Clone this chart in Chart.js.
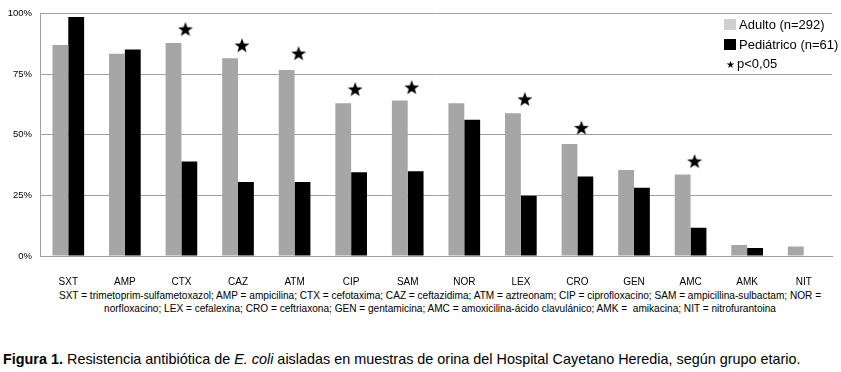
<!DOCTYPE html>
<html>
<head>
<meta charset="utf-8">
<script src="https://cdn.jsdelivr.net/npm/chart.js@4.4.1/dist/chart.umd.min.js"></script>
<style>
  html, body { margin:0; padding:0; background:#fff; width:841px; height:372px; overflow:hidden; font-family:"Liberation Sans", Arial, sans-serif; }
  #wrap { position:absolute; left:0; top:0; width:841px; height:290px; }
  .legend { position:absolute; left:724px; top:15px; font-size:13px; color:#000; line-height:19.5px; }
  .legend div { white-space:nowrap; }
  .sw { display:inline-block; width:12px; height:11px; vertical-align:-1px; margin-right:3px; }
  .note { position:absolute; left:0; width:880px; text-align:center; font-size:10.1px; white-space:pre; color:#000; }
  .caption { position:absolute; left:3px; top:351px; font-size:14.4px; white-space:nowrap; color:#000; }
</style>
</head>
<body>
<div id="wrap"><canvas id="c" width="841" height="290"></canvas></div>
<div class="legend">
  <div><span class="sw" style="background:#cfcfcf"></span>Adulto (n=292)</div>
  <div><span class="sw" style="background:#000"></span>Pediátrico (n=61)</div>
  <div><span style="font-size:10px;display:inline-block;width:12px;text-align:center;margin-right:1px;">★</span>p&lt;0,05</div>
</div>
<div class="note" style="top:290px;">SXT = trimetoprim-sulfametoxazol; AMP = ampicilina; CTX = cefotaxima; CAZ = ceftazidima; ATM = aztreonam; CIP = ciprofloxacino; SAM = ampicillina-sulbactam; NOR =</div>
<div class="note" style="top:303px;">norfloxacino; LEX = cefalexina; CRO = ceftriaxona; GEN = gentamicina; AMC = amoxicilina-ácido clavulánico; AMK =  amikacina; NIT = nitrofurantoina</div>
<div class="caption"><b>Figura 1.</b> Resistencia antibiótica de <i>E. coli</i> aisladas en muestras de orina del Hospital Cayetano Heredia, según grupo etario.</div>
<script>
const categories = ['SXT','AMP','CTX','CAZ','ATM','CIP','SAM','NOR','LEX','CRO','GEN','AMC','AMK','NIT'];
const adulto = [87.1, 83.5, 87.9, 81.6, 76.8, 63.0, 64.2, 63.0, 58.9, 46.2, 35.5, 33.6, 4.5, 3.9];
const pediatrico = [98.6, 85.2, 39.0, 30.5, 30.5, 34.6, 35.0, 56.2, 24.9, 32.8, 28.2, 11.7, 3.3, 0];
const significance = [null, null, 93.5, 86.8, 83.5, 68.7, 69.5, null, 64.6, 52.8, null, 39.0, null, null];
const yTicks = [0, 25, 50, 75, 100];

function makeStar() {
  const cv = document.createElement('canvas');
  cv.width = 24; cv.height = 16;
  const ctx = cv.getContext('2d');
  const cx = 16, cy = 8.3, R = 7.8, r = 3.2;
  ctx.beginPath();
  for (let i = 0; i < 10; i++) {
    const rad = (i % 2 === 0) ? R : r;
    const a = -Math.PI / 2 + i * Math.PI / 5;
    const x = cx + rad * Math.cos(a), y = cy + rad * Math.sin(a);
    if (i === 0) ctx.moveTo(x, y); else ctx.lineTo(x, y);
  }
  ctx.closePath();
  ctx.fillStyle = '#000';
  ctx.fill();
  return cv;
}

Chart.defaults.font.family = '"Liberation Sans", Arial, sans-serif';
Chart.defaults.color = '#000';

new Chart(document.getElementById('c'), {
  type: 'bar',
  data: {
    labels: categories,
    datasets: [
      { label: 'Adulto (n=292)', data: adulto, backgroundColor: '#a6a6a6', categoryPercentage: 0.56, barPercentage: 1.0, order: 2 },
      { label: 'Pediátrico (n=61)', data: pediatrico, backgroundColor: '#000000', categoryPercentage: 0.56, barPercentage: 1.0, order: 2 },
      { type: 'line', label: 'p<0,05', data: significance, showLine: false, pointStyle: makeStar(), pointRadius: 8, order: 1 }
    ]
  },
  options: {
    responsive: false,
    animation: false,
    devicePixelRatio: 1,
    layout: { padding: { top: 9, right: 1, left: 0, bottom: 0 } },
    plugins: { legend: { display: false }, tooltip: { enabled: false } },
    scales: {
      x: {
        grid: { display: false, drawTicks: false },
        border: { color: '#a0a0a0', width: 1 },
        ticks: { padding: 20, font: { size: 10 }, color: '#000' },
        afterFit: (s) => { s.height = 34; }
      },
      y: {
        min: 0, max: 100,
        afterBuildTicks: (s) => { s.ticks = yTicks.map(v => ({ value: v })); },
        grid: { color: '#a0a0a0', drawTicks: false, lineWidth: 1 },
        border: { color: '#a0a0a0', width: 1 },
        ticks: { padding: 8, font: { size: 9.5 }, color: '#000', callback: (v) => v + '%' },
        afterFit: (s) => { s.width = 40; }
      }
    }
  }
});
</script>
</body>
</html>
